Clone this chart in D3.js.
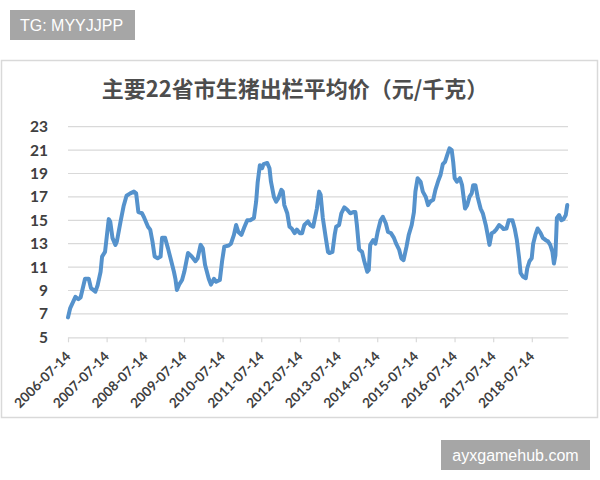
<!DOCTYPE html>
<html>
<head>
<meta charset="utf-8">
<script src="https://cdn.jsdelivr.net/npm/d3@7"></script>
<style>
  body { margin: 0; background: #fff; }
  .grid line { stroke: #d9d9d9; stroke-width: 1.2; }
  .ylab { font-family: Lato, "Liberation Sans", sans-serif; font-weight: bold; font-size: 15.5px; fill: #404040; }
  .x.axis text { font-family: Lato, "Liberation Sans", sans-serif; font-weight: bold; font-size: 13.5px; fill: #404040; }
  .x.axis path, .x.axis line { stroke: #d9d9d9; stroke-width: 1.2; }
  .mainline { fill: none; stroke: #5592cc; stroke-width: 4; stroke-linejoin: round; stroke-linecap: round; }
</style>
</head>
<body>
<div class="pigChart"></div>
<script>

// weekly price series, weeks counted from the first date
var startDate = "2006-07-14";
var weeks = [0, 3, 10, 14, 17, 23, 28, 31, 37, 40, 44, 46, 50, 55, 57, 60, 64, 66, 71, 75, 79, 84, 89, 92, 95,
  100, 103, 108, 111, 114, 117, 121, 125, 127, 131, 135, 139, 143, 145, 147, 150, 154, 157, 162, 167, 172, 175,
  179, 182, 185, 190, 193, 197, 200, 205, 208, 211, 217, 220, 224, 227, 230, 234, 238, 242, 246, 251, 254, 256,
  259, 262, 264, 269, 272, 274, 278, 281, 284, 288, 290, 292, 296, 299, 302, 306, 309, 313, 316, 319, 324, 327,
  331, 336, 339, 341, 344, 348, 351, 353, 357, 360, 362, 366, 369, 373, 377, 381, 385, 388, 390, 393, 397, 400,
  404, 406, 408, 412, 415, 418, 422, 425, 429, 432, 436, 440, 443, 447, 450, 453, 457, 460, 464, 467, 469, 472,
  476, 479, 483, 486, 489, 493, 496, 500, 503, 506, 509, 512, 515, 518, 520, 522, 525, 529, 532, 536, 539, 542,
  545, 547, 550, 553, 557, 560, 564, 567, 569, 572, 575, 578, 582, 585, 588, 592, 595, 600, 603, 606, 609, 611,
  614, 618, 620, 623, 626, 628, 631, 634, 638, 641, 645, 648, 651, 654, 656, 658, 660, 663, 666, 669, 672, 674];
var prices = [6.7, 7.5, 8.45, 8.25, 8.4, 10.0, 10.0, 9.2, 8.9, 9.45, 10.6, 11.9, 12.3, 15.1, 14.9, 13.5, 12.9, 13.2, 14.9, 16.2, 17.1, 17.3, 17.45, 17.3, 15.7,
  15.6, 15.2, 14.45, 14.2, 13.2, 11.9, 11.75, 11.9, 13.5, 13.5, 12.6, 11.6, 10.6, 10.0, 9.05, 9.5, 9.9, 10.6, 12.2, 11.9, 11.5, 11.75,
  12.9, 12.6, 11.2, 10.0, 9.5, 10.0, 9.75, 9.9, 11.5, 12.75, 12.85, 13.0, 13.75, 14.6, 14.0, 13.75, 14.4, 15.0, 15.0, 15.2, 16.6, 18.2,
  19.7, 19.45, 19.8, 19.9, 19.45, 18.3, 17.0, 16.6, 16.9, 17.6, 17.45, 16.3, 15.6, 14.45, 14.3, 13.9, 14.2, 13.9, 13.9, 14.6, 14.9, 14.6,
  14.45, 16.0, 17.45, 17.2, 15.2, 13.5, 12.3, 12.2, 12.3, 13.75, 14.45, 14.6, 15.6, 16.1, 15.9, 15.6, 15.7, 15.7, 14.6, 12.5, 12.3, 11.5,
  10.6, 10.75, 12.9, 13.3, 13.0, 14.0, 15.0, 15.3, 14.75, 14.0, 13.9, 13.5, 13.0, 12.5, 11.75, 11.6, 12.75, 13.75, 14.6, 15.7, 17.45, 18.6,
  18.3, 17.45, 17.0, 16.3, 16.6, 16.75, 17.6, 18.4, 18.9, 19.8, 20.0, 20.6, 21.15, 21.0, 20.0, 18.6, 18.3, 18.6, 18.0, 16.0, 16.3, 17.0,
  17.3, 18.0, 18.0, 17.0, 16.0, 15.6, 14.6, 13.6, 12.9, 13.9, 14.0, 14.2, 14.6, 14.45, 14.25, 14.3, 15.0, 15.0, 14.3, 13.3, 11.75, 10.5,
  10.2, 10.05, 10.9, 11.5, 11.75, 13.0, 13.75, 14.3, 13.9, 13.5, 13.3, 13.2, 12.9, 12.3, 11.3, 12.0, 15.2, 15.45, 15.0, 15.1, 15.45, 16.3];
var totalWeeks = 675;

var tickLabels = ["2006-07-14", "2007-07-14", "2008-07-14", "2009-07-14", "2010-07-14", "2011-07-14", "2012-07-14",
  "2013-07-14", "2014-07-14", "2015-07-14", "2016-07-14", "2017-07-14", "2018-07-14"];
var yTicks = [5, 7, 9, 11, 13, 15, 17, 19, 21, 23];
var title = "主要22省市生猪出栏平均价（元/千克）";

var width = 600;
var height = 480;

var parseDate = d3.timeParse("%Y-%m-%d");
var start = parseDate(startDate);

var data = weeks.map(function(w, i) {
  return { date: d3.timeDay.offset(start, w * 7), price: prices[i] };
});

var svg = d3.select('.pigChart').append('svg')
            .attr('width', width)
            .attr('height', height);

// watermarks
svg.append('rect').attr('x', 10).attr('y', 10).attr('width', 125).attr('height', 30).attr('fill', '#a6a6a6');
svg.append('text').attr('x', 20).attr('y', 31)
   .style('font-family', '"Liberation Sans", Arial, sans-serif').style('font-size', '16px').attr('fill', '#fff')
   .text('TG: MYYJJPP');
svg.append('rect').attr('x', 441).attr('y', 440).attr('width', 149).attr('height', 30).attr('fill', '#a6a6a6');
svg.append('text').attr('x', 515.5).attr('y', 461).attr('text-anchor', 'middle')
   .style('font-family', '"Liberation Sans", Arial, sans-serif').style('font-size', '16px').attr('fill', '#fff')
   .text('ayxgamehub.com');

// chart frame
svg.append('rect').attr('x', 1.5).attr('y', 60.5).attr('width', 596).attr('height', 357)
   .attr('fill', '#fff').attr('stroke', '#d9d9d9').attr('stroke-width', 1.5);

svg.append('text').attr('x', 295).attr('y', 97).attr('text-anchor', 'middle')
   .style('font-family', '"Noto Sans CJK SC", sans-serif').style('font-weight', 'bold').style('font-size', '22px')
   .attr('fill', '#4d4d4d')
   .text(title);

var y = d3.scaleLinear().domain([5, 23]).range([337.3, 126.7]);
var x = d3.scaleTime()
          .domain([start, d3.timeDay.offset(start, totalWeeks * 7)])
          .range([68, 568]);

var grid = svg.append('g').attr('class', 'grid');
grid.selectAll('line').data(yTicks.slice(1)).enter().append('line')
    .attr('x1', 68).attr('x2', 568)
    .attr('y1', function(d) { return y(d); })
    .attr('y2', function(d) { return y(d); });

svg.append('g').selectAll('text').data(yTicks).enter().append('text')
   .attr('class', 'ylab')
   .attr('x', 48).attr('y', function(d) { return y(d) + 5.5; })
   .attr('text-anchor', 'end')
   .text(function(d) { return d; });

var xAxis = d3.axisBottom(x)
              .tickValues(tickLabels.map(parseDate))
              .tickFormat(d3.timeFormat("%Y-%m-%d"))
              .tickSize(5).tickSizeOuter(0);

var xg = svg.append('g').attr('class', 'x axis')
            .attr('transform', 'translate(0,' + y(5) + ')')
            .call(xAxis);
xg.selectAll('text')
  .attr('text-anchor', 'end')
  .attr('dy', null)
  .attr('transform', 'translate(3,20) rotate(-45)')
  .attr('x', 0).attr('y', 0);

var line = d3.line()
             .x(function(d) { return x(d.date); })
             .y(function(d) { return y(d.price); });

svg.append('path').attr('class', 'mainline').attr('d', line(data));

</script>
</body>
</html>
